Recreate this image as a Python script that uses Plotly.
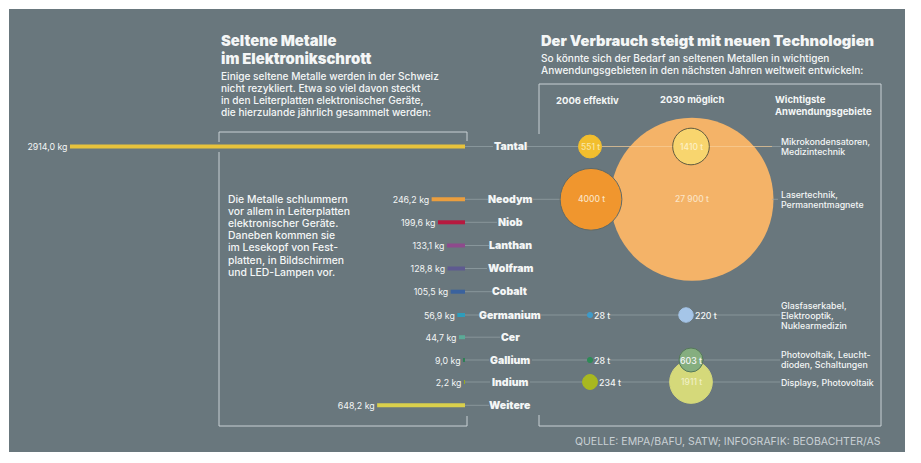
import plotly.graph_objects as go

# the page keeps its 8 px body margin, so the figure is drawn that much smaller
PAGE_MARGIN = 8
WIDTH = 921
HEIGHT = 463
PANEL = "#69777d"
LINE = "#97a3a8"
LINE_ON_BUBBLE = "#f8cf98"
FRAME = "#c9d1d5"
WHITE = "#f4f6f6"
FONT = "Inter"

# left chart: Elektronikschrott in kg
metals = ["Tantal", "Neodym", "Niob", "Lanthan", "Wolfram", "Cobalt",
          "Germanium", "Cer", "Gallium", "Indium", "Weitere"]
scrap_kg = [2914.0, 246.2, 199.6, 133.1, 128.8, 105.5, 56.9, 44.7, 9.0, 2.2, 648.2]
bar_colors = ["#e8c33c", "#eb9e3e", "#b7193f", "#8e4a8c", "#5e5a90", "#3a629e",
              "#2e9dbb", "#5baa97", "#2e7f55", "#98a822", "#dad04c"]
row_y = [146.5, 199.3, 222.3, 245.5, 268.5, 291.7, 315, 337.2, 360, 382, 405.3]

# right chart: Bedarf in t
bubble_metals = ["Tantal", "Neodym", "Germanium", "Gallium", "Indium"]
use_2006 = [551, 4000, 28, 28, 234]
use_2030 = [1410, 27900, 220, 603, 1911]
labels_2006 = ["551 t", "4000 t", "28 t", "28 t", "234 t"]
labels_2030 = ["1410 t", "27 900 t", "220 t", "603 t", "1911 t"]
colors_2006 = ["#f2be2e", "#f0962e", "#3e9ac8", "#2e8b57", "#a8b820"]
colors_2030 = ["#f8d56e", "#f4b368", "#a5c5e8", "#85ae7f", "#d5d97a"]
borders_2006 = ["#f2be2e", "#5f6a68", "#3e9ac8", "#2e8b57", "#a8b820"]
borders_2030 = ["#5f5a40", "#f4b368", "#a5c5e8", "#55785a", "#d5d97a"]
x_2006 = [590, 591, 590, 590, 590]
x_2030 = [691, 692, 686, 691, 691]
y_2006 = [146.5, 199.3, 315, 360, 382]
y_2030 = [146.5, 199.3, 315, 360, 382]

areas = {
    146.5: ["Mikrokondensatoren,", "Medizintechnik"],
    199.3: ["Lasertechnik,", "Permanentmagnete"],
    315: ["Glasfaserkabel,", "Elektrooptik,", "Nuklearmedizin"],
    360: ["Photovoltaik, Leucht-", "dioden, Schaltungen"],
    382: ["Displays, Photovoltaik"],
}

# connector segments per row
connectors = [
    (146.5, 465, 493), (146.5, 527, 602), (146.5, 772, 781),
    (199.3, 465, 488), (199.3, 533, 560), (199.3, 772, 778),
    (222.3, 465, 497), (245.5, 465, 489), (268.5, 465, 487), (291.7, 465, 492),
    (315, 465, 479), (315, 541, 587), (315, 610, 680), (315, 712, 780),
    (337.2, 465, 500), (360, 465, 489), (360, 532, 587), (360, 610, 679), (360, 704, 780),
    (382, 465, 490), (382, 530, 582), (382, 620, 670), (382, 712, 780),
    (405.3, 465, 489),
]
connector_on_bubble = (146.5, 602, 772)

# pixel per kg from the Tantal bar, pixel diameter of the biggest bubble
BAR_PX = 395 / 2914.0
BIG_D = 163
sizeref = 2 * max(use_2030) / BIG_D ** 2

fig = go.Figure()

fig.add_trace(go.Bar(
    y=row_y, x=scrap_kg, orientation="h", width=4, xaxis="x", yaxis="y",
    marker=dict(color=bar_colors, line_width=0),
    text=[f"{v:.1f} kg\u00a0".replace(".", ",") for v in scrap_kg],
    textposition="outside", cliponaxis=False, constraintext="none",
    textfont=dict(family=FONT, size=8.8, color=WHITE),
))

fig.add_trace(go.Scatter(
    x=[x_2030[1]], y=[y_2030[1]], mode="markers", xaxis="x2", yaxis="y",
    marker=dict(size=[use_2030[1]], sizemode="area", sizeref=sizeref,
                color=colors_2030[1], line_width=0, opacity=1),
))

line_x, line_y = [], []
for y, x0, x1 in connectors:
    line_x += [x0, x1, None]
    line_y += [y, y, None]
fig.add_trace(go.Scatter(
    x=line_x, y=line_y, mode="lines", xaxis="x2", yaxis="y",
    line=dict(color=LINE, width=0.7),
))
fig.add_trace(go.Scatter(
    x=connector_on_bubble[1:], y=[connector_on_bubble[0]] * 2, mode="lines",
    xaxis="x2", yaxis="y", line=dict(color=LINE_ON_BUBBLE, width=0.7),
))

# draw order: small on top of large
for i in [4, 0, 2, 3]:
    fig.add_trace(go.Scatter(
        x=[x_2030[i]], y=[y_2030[i]], mode="markers", xaxis="x2", yaxis="y",
        marker=dict(size=[use_2030[i]], sizemode="area", sizeref=sizeref,
                    color=colors_2030[i], line=dict(color=borders_2030[i], width=1), opacity=1),
    ))
for i in range(5):
    fig.add_trace(go.Scatter(
        x=[x_2006[i]], y=[y_2006[i]], mode="markers", xaxis="x2", yaxis="y",
        marker=dict(size=[use_2006[i]], sizemode="area", sizeref=sizeref,
                    color=colors_2006[i], line=dict(color=borders_2006[i], width=1), opacity=1),
    ))


def label(x, y, text, size=8.5, color=WHITE, anchor="left", weight=500):
    fig.add_annotation(
        x=x, y=y, text=text, xref="x2", yref="y",
        showarrow=False, xanchor=anchor, yanchor="middle", borderpad=0, borderwidth=0,
        font=dict(family=FONT, size=size, color=color, weight=weight),
    )


def block(x, y, lines, step, **kw):
    for n, text in enumerate(lines):
        label(x, y + n * step, text, **kw)


for name, y in zip(metals, row_y):
    label(510, y, name, size=10.5, anchor="center", weight=900)

block(221, 40.5, ["Seltene Metalle", "im Elektronikschrott"], 18, size=14.8, weight=900)
block(221, 76, ["Einige seltene Metalle werden in der Schweiz",
                "nicht rezykliert. Etwa so viel davon steckt",
                "in den Leiterplatten elektronischer Geräte,",
                "die hierzulande jährlich gesammelt werden:"], 12, size=10.1)
block(228, 199, ["Die Metalle schlummern", "vor allem in Leiterplatten",
                 "elektronischer Geräte.", "Daneben kommen sie",
                 "im Lesekopf von Fest-", "platten, in Bildschirmen",
                 "und LED-Lampen vor."], 12.2, size=10.4)
label(541, 40.5, "Der Verbrauch steigt mit neuen Technologien", size=14.7, weight=900)
block(541, 58, ["So könnte sich der Bedarf an seltenen Metallen in wichtigen",
                "Anwendungsgebieten in den nächsten Jahren weltweit entwickeln:"], 12, size=10.1)
label(587, 100, "2006 effektiv", size=9.5, anchor="center", weight=700)
label(692, 100, "2030 möglich", size=9.5, anchor="center", weight=700)
block(775, 100, ["Wichtigste", "Anwendungsgebiete"], 12, size=9.5, weight=700)

for y, lines in areas.items():
    top = y - 5.5 if len(lines) == 2 else y - 10 if len(lines) == 3 else y
    if y == 199.3:
        top = 194
    block(781, top, lines, 10, size=8.8)

label(590, 146.5, labels_2006[0], anchor="center", color="#f8e7a8", size=8.5)
label(691, 146.5, labels_2030[0], anchor="center", color="#fdf0c4", size=8.5)
label(591, 199.3, labels_2006[1], anchor="center", color="#fbe3c4", size=8.5)
label(692, 199.3, labels_2030[1], anchor="center", color="#fbe3c4", size=8.5)
label(594, 315, labels_2006[2], size=8.8)
label(695, 315, labels_2030[2], size=8.8)
label(594, 360, labels_2006[3], size=8.8)
label(691, 360, labels_2030[3], anchor="center", size=8.8)
label(599, 382, labels_2006[4], size=8.8)
label(691, 382, labels_2030[4], anchor="center", color="#f0f0c4", size=8.5)
label(881, 441, "QUELLE: EMPA/BAFU, SATW; INFOGRAFIK: BEOBACHTER/AS", size=10.5,
      anchor="right", color=FRAME, weight=400)

frame_paths = [
    "M 219 142 V 132 H 467 V 141",
    "M 219 152 V 426 H 467 V 416",
    "M 539 134 V 84 H 881 V 426 H 539 V 415",
]
plot_w = WIDTH - PAGE_MARGIN
plot_h = HEIGHT - PAGE_MARGIN
shapes = [dict(type="rect", xref="paper", yref="paper",
               x0=(9 - PAGE_MARGIN) / plot_w, x1=(905 - PAGE_MARGIN) / plot_w,
               y0=1 - (452 - PAGE_MARGIN) / plot_h, y1=1 - (9 - PAGE_MARGIN) / plot_h,
               fillcolor=PANEL, line_width=0, layer="below")]
shapes += [dict(type="path", xref="x2", yref="y", path=p,
                line=dict(color=FRAME, width=1), layer="below") for p in frame_paths]

fig.update_layout(
    width=plot_w, height=plot_h, margin=dict(l=0, r=0, t=0, b=0, pad=0),
    autosize=False, showlegend=False, paper_bgcolor="white", plot_bgcolor="rgba(0,0,0,0)",
    shapes=shapes,
    xaxis=dict(domain=[0, (465 - PAGE_MARGIN) / plot_w],
               range=[(465 - PAGE_MARGIN) / BAR_PX, 0], visible=False),
    xaxis2=dict(domain=[0, 1], range=[PAGE_MARGIN, WIDTH], visible=False),
    yaxis=dict(domain=[0, 1], range=[HEIGHT, PAGE_MARGIN], visible=False),
)

fig.write_html("out.html")
